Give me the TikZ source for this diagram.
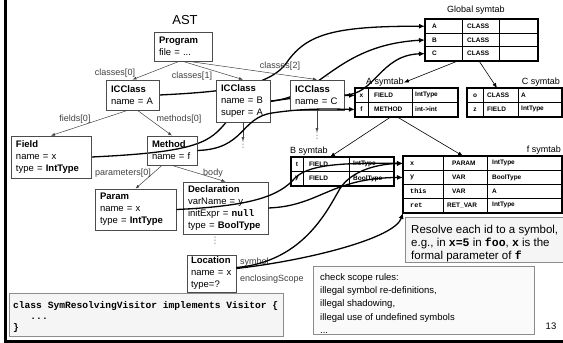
\documentclass[tikz,border=0pt]{standalone}
\usepackage{fontspec}
\setmainfont{Liberation Sans}
\setmonofont{Liberation Mono}
\newfontfamily\vdotfont{DejaVu Sans}
\usetikzlibrary{arrows.meta}
\pgfdeclarelayer{behind}
\pgfsetlayers{behind,main}

\begin{document}
\begin{tikzpicture}[x=1pt, y=-1pt,
  astbox/.style={draw=black!70, line width=0.8pt, fill=white, align=left,
    inner xsep=5pt, inner ysep=1pt, font=\fontsize{9.5}{12}\selectfont},
  edgelabel/.style={font=\fontsize{9}{10}\selectfont, text=black!75, inner sep=0pt},
  treearrow/.style={draw=black!75, line width=0.5pt, -{Latex[length=4pt,width=3pt]}},
  symarrow/.style={draw=black, line width=1.3pt, -{Latex[length=6pt,width=5pt]}},
  scopearrow/.style={draw=black, line width=0.6pt, -{Latex[length=5pt,width=4pt]}},
  tabrow/.style={draw=black, line width=0.8pt, inner sep=0pt, anchor=north west},
  tabframe/.style={draw=black, line width=1.4pt},
  tabrule/.style={draw=black, line width=0.8pt},
  cell/.style={font=\fontsize{6.5}{7}\selectfont\bfseries, inner sep=0pt, anchor=west},
  ttcell/.style={font=\fontsize{6.8}{7}\selectfont\ttfamily\bfseries, inner sep=0pt, anchor=west},
  tablabel/.style={font=\fontsize{9}{10}\selectfont, inner sep=0pt},
  notebox/.style={draw=black!45, line width=1.4pt, fill=black!4, inner sep=0pt, anchor=north west},
  moredots/.style={font=\vdotfont\fontsize{9}{9}\selectfont, text=black!55, inner sep=0pt},
]
\useasboundingbox (0,0) rectangle (563,343);

% slide frame
\draw[line width=3pt] (5.5,0) -- (5.5,341) -- (563,341);

% ---------- note boxes ----------
\node[notebox, minimum width=274pt, minimum height=43pt] (code) at (9,293) {};
\node[anchor=north west, inner sep=0pt, align=left,
      font=\fontsize{9.6}{11}\selectfont\ttfamily\bfseries] (codetxt) at (13,301.5)
  {class SymResolvingVisitor implements Visitor \{\\\phantom{000}...\\\}};

\node[notebox, minimum width=160pt, minimum height=45pt] (res) at (405,217) {};
\node[anchor=north west, inner sep=0pt, align=left,
      font=\fontsize{11.5}{13.2}\selectfont] (restxt) at (411,224.5)
  {Resolve each id to a symbol,\\
   e.g., in \texttt{\textbf{x=5}} in \texttt{\textbf{foo}}, \texttt{\textbf{x}} is the\\
   formal parameter of \texttt{\textbf{f}}};

\node[notebox, fill=black!2, minimum width=221pt, minimum height=68pt] (chk) at (313,266) {};
\node[anchor=north west, inner sep=0pt, align=left,
      font=\fontsize{9.5}{13.2}\selectfont] (chktxt) at (320,273.5)
  {check scope rules:\\illegal symbol re-definitions,\\illegal shadowing,\\illegal use of undefined symbols\\...};

\node[font=\fontsize{9.5}{10}\selectfont, inner sep=0pt] (pageno) at (551,326) {13};

% ---------- symbol tables ----------
% global scope
\node[tablabel] (gLab) at (476,10) {Global symtab};
\foreach \nm/\k [count=\i] in {gA/A, gB/B, gC/C} {
  \node[tabrow, minimum width=112pt, minimum height=13.7pt] (\nm) at (425,{19+13.7*(\i-1)}) {};
  \node[cell] (\nm-key) at ([xshift=7pt]\nm.west) {\k};
  \node[cell] (\nm-kind) at ([xshift=42pt]\nm.west) {CLASS};
}
\draw[tabrule] ([xshift=37pt]gA.north west) -- ([xshift=37pt]gC.south west)
               ([xshift=74pt]gA.north west) -- ([xshift=74pt]gC.south west);
\draw[tabframe] (gA.north west) rectangle (gC.south east);

% class A scope
\node[tablabel] (aLab) at (385,82.5) {A symtab};
\node[tabrow, minimum width=102pt, minimum height=14pt] (aX) at (355,88) {};
\node[tabrow, minimum width=102pt, minimum height=14pt] (aF) at (355,102) {};
\node[cell, anchor=center] (aX-key) at ([xshift=6.5pt]aX.west) {x};
\node[cell] (aX-kind) at ([xshift=19pt]aX.west) {FIELD};
\node[cell] (aX-type) at ([xshift=60pt]aX.west) {IntType};
\node[cell, anchor=center] (aF-key) at ([xshift=6.5pt]aF.west) {f};
\node[cell] (aF-kind) at ([xshift=19pt]aF.west) {METHOD};
\node[cell] (aF-type) at ([xshift=60pt]aF.west) {int->int};
\draw[tabrule] ([xshift=13pt]aX.north west) -- ([xshift=13pt]aF.south west)
               ([xshift=57pt]aX.north west) -- ([xshift=57pt]aF.south west);
\draw[tabframe] (aX.north west) rectangle (aF.south east);

% class C scope
\node[tablabel, anchor=east] (cLab) at (560,82) {C symtab};
\node[tabrow, minimum width=94pt, minimum height=14pt] (cO) at (467,88) {};
\node[tabrow, minimum width=94pt, minimum height=14pt] (cZ) at (467,102) {};
\node[cell, anchor=center] (cO-key) at ([xshift=8pt]cO.west) {o};
\node[cell] (cO-kind) at ([xshift=20pt]cO.west) {CLASS};
\node[cell] (cO-type) at ([xshift=54pt]cO.west) {A};
\node[cell, anchor=center] (cZ-key) at ([xshift=8pt]cZ.west) {z};
\node[cell] (cZ-kind) at ([xshift=20pt]cZ.west) {FIELD};
\node[cell] (cZ-type) at ([xshift=54pt]cZ.west) {IntType};
\draw[tabrule] ([xshift=16pt]cO.north west) -- ([xshift=16pt]cZ.south west)
               ([xshift=51pt]cO.north west) -- ([xshift=51pt]cZ.south west);
\draw[tabframe] (cO.north west) rectangle (cZ.south east);

% class B scope
\node[tablabel, anchor=west] (bLab) at (290,151.5) {B symtab};
\node[tabrow, minimum width=102pt, minimum height=14pt] (bT) at (291,157) {};
\node[tabrow, minimum width=102pt, minimum height=14pt] (bY) at (291,171) {};
\node[cell, anchor=center] (bT-key) at ([xshift=6pt]bT.west) {t};
\node[cell] (bT-kind) at ([xshift=18pt]bT.west) {FIELD};
\node[cell] (bT-type) at ([xshift=62pt]bT.west) {IntType};
\node[cell, anchor=center] (bY-key) at ([xshift=6pt]bY.west) {y};
\node[cell] (bY-kind) at ([xshift=18pt]bY.west) {FIELD};
\node[cell] (bY-type) at ([xshift=62pt]bY.west) {BoolType};
\draw[tabrule] ([xshift=12pt]bT.north west) -- ([xshift=12pt]bY.south west)
               ([xshift=58pt]bT.north west) -- ([xshift=58pt]bY.south west);
\draw[tabframe] (bT.north west) rectangle (bY.south east);

% method f scope
\node[tablabel, anchor=east] (fLab) at (561,150.5) {f symtab};
\foreach \nm/\k/\kd/\ko/\ty [count=\i] in
    {fX/x/PARAM/49/IntType, fY/y/VAR/49/BoolType, fThis/this/VAR/49/A, fRet/ret/RET\_VAR/44/IntType} {
  \node[tabrow, minimum width=158pt, minimum height=14pt] (\nm) at (403,{156+14*(\i-1)}) {};
  \node[ttcell] (\nm-key) at ([xshift=7pt]\nm.west) {\k};
  \node[cell] (\nm-kind) at ([xshift=\ko pt]\nm.west) {\kd};
  \node[cell] (\nm-type) at ([xshift=89pt]\nm.west) {\ty};
}
\draw[tabrule] ([xshift=40pt]fX.north west) -- ([xshift=40pt]fRet.south west)
               ([xshift=84pt]fX.north west) -- ([xshift=84pt]fRet.south west);
\draw[tabframe] (fX.north west) rectangle (fRet.south east);

% scope nesting
\draw[scopearrow] ([xshift=33pt]gC.south west) -- (aLab.east);
\draw[scopearrow] ([xshift=54pt]gC.south west) -- ([xshift=30pt]cO.north west);
\draw[scopearrow] ([xshift=36pt]aF.south west) -- ([xshift=39pt]bT.north west);
\draw[scopearrow] ([xshift=42pt]aF.south west) -- ([xshift=60pt]fX.north west);

% ---------- AST ----------
\node[font=\fontsize{13}{15}\selectfont, inner sep=0pt] (astTitle) at (185,20) {AST};
\node[astbox, text width=48pt, minimum height=29pt] (prog) at (183,46.5) {\textbf{Program}\\file = ...};
\node[astbox, text width=43pt, minimum height=30pt] (ca) at (132.5,95) {\textbf{ICClass}\\name = A};
\node[astbox, text width=70pt, minimum height=42pt] (fld) at (51,157) {\textbf{Field}\\name = x\\type = \textbf{IntType}};
\node[astbox, text width=40pt, minimum height=29pt, fill=none] (meth) at (172,150.5) {\textbf{Method}\\name = f};
\node[astbox, text width=71pt, minimum height=41pt] (param) at (135.5,209.5) {\textbf{Param}\\name = x\\type = \textbf{IntType}};
\node[astbox, text width=75pt, minimum height=52pt] (decl) at (225.5,208)
  {\textbf{Declaration}\\varName = y\\initExpr = \texttt{\textbf{null}}\\type = \textbf{BoolType}};
\node[astbox, text width=41pt, minimum height=37pt, inner xsep=4pt] (loc) at (211.5,273.5)
  {\textbf{Location}\\name = x\\type=?};
\node[astbox, text width=44pt, minimum height=42pt] (cb) at (243,101) {\textbf{ICClass}\\name = B\\super = A};
\node[astbox, text width=44pt, minimum height=30pt] (cc) at (317,95) {\textbf{ICClass}\\name = C};

\node[font=\fontsize{8}{8}\selectfont, text=black!70, inner sep=0pt] (cmore) at (326,77) {...};
\node[moredots] (bmore) at (243,145) {⋮};
\node[moredots] (cdots) at (317,136) {⋮};
\node[moredots] (dmore) at (215,241) {⋮};

% tree edges
\draw[treearrow] ([xshift=-4pt]prog.south) -- (ca.north);
\draw[treearrow] (prog.south) -- (cb.north);
\draw[treearrow] ([xshift=6pt]prog.south) -- (cc.north);
\draw[treearrow] ([xshift=-5pt]ca.south) -- (fld.north);
\draw[treearrow] ([xshift=5pt]ca.south) -- (meth.north);
\draw[treearrow] ([xshift=-10pt]meth.south) -- (param.north);
\draw[treearrow] (meth.south) -- (decl.north);
\draw[treearrow] (cb.south) -- (bmore.north);
\draw[treearrow] (cc.south) -- (cdots.north);

\node[edgelabel] (lc0) at (115,73) {classes[0]};
\node[edgelabel] (lc1) at (192,76) {classes[1]};
\node[edgelabel] (lc2) at (280,66) {classes[2]};
\node[edgelabel] (lf0) at (75,119) {fields[0]};
\node[edgelabel] (lm0) at (179,119) {methods[0]};
\node[edgelabel] (lp0) at (123,173) {parameters[0]};
\node[edgelabel] (lbody) at (213,173) {body};
\node[edgelabel, anchor=west] (lsym) at (240,262) {symbol};
\node[edgelabel, anchor=west] (lenc) at (240,279) {enclosingScope};

% ---------- links from AST nodes to symbols ----------
\begin{pgfonlayer}{behind}
\draw[symarrow] (ca.east) .. controls (220,92) and (265,88) .. (285,65)
                .. controls (305,35) and (330,26) .. (gA.west);
\draw[symarrow] (cb.east) .. controls (320,98) and (335,45) .. (gB.west);
\draw[symarrow] (fld.east) .. controls (200,152) and (210,142) .. (228,120)
                .. controls (245,100) and (300,96) .. (aX.west);
\end{pgfonlayer}
\draw[symarrow] (cc.east) .. controls (375,95) and (380,55) .. (gC.west);
\draw[symarrow] (meth.east) .. controls (245,149) and (240,118) .. (272,113)
                .. controls (305,108) and (330,109) .. (aF.west);
\draw[symarrow] (param.east) .. controls (255,206) and (280,195) .. (295,178)
                .. controls (310,163) and (350,163) .. (fX.west);
\draw[symarrow] (decl.east) .. controls (320,206) and (330,178) .. (fY.west);
\draw[symarrow] ([yshift=6pt]loc.east) .. controls (300,262) and (325,215) .. (338,192)
                .. controls (348,172) and (375,164) .. (fX.west);
\draw[symarrow] ([yshift=5pt]loc.east) .. controls (310,260) and (395,238) .. (fRet.south west);

\end{tikzpicture}
\end{document}
